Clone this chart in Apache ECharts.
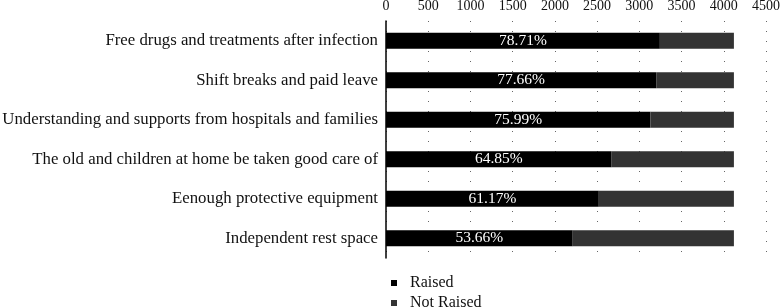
<!DOCTYPE html>
<html>
<head>
<meta charset="utf-8">
<script src="https://cdn.jsdelivr.net/npm/echarts@6/dist/echarts.min.js"></script>
<style>
  html, body { margin: 0; padding: 0; background: #fff; }
  #chart { width: 781px; height: 308px; }
</style>
</head>
<body>
<div id="chart"></div>
<script>
// categories, top to bottom
const categories = [
  "Free drugs and treatments after infection",
  "Shift breaks and paid leave",
  "Understanding and supports from hospitals and families",
  "The old and children at home be taken good care of",
  "Eenough protective equipment",
  "Independent rest space"
];
const raised = [3243, 3200, 3131, 2672, 2520, 2211];
const notRaised = [877, 920, 989, 1448, 1600, 1909];
const pctLabels = ["78.71%", "77.66%", "75.99%", "64.85%", "61.17%", "53.66%"];

const font = "'Liberation Serif', 'DejaVu Serif', serif";

const legendItem = (name, top) => ({
  left: 386,
  top: top,
  itemWidth: 6,
  itemHeight: 6,
  icon: "rect",
  textStyle: { fontFamily: font, fontSize: 16, color: "#111", padding: [0, 0, 0, 8] },
  data: [name]
});

const chart = echarts.init(document.getElementById("chart"));
chart.setOption({
  animation: false,
  textStyle: { fontFamily: font },
  grid: { left: 386, right: 15, top: 21, bottom: 50, outerBoundsMode: "none", containLabel: false },
  legend: [legendItem("Raised", 270), legendItem("Not Raised", 290)],
  xAxis: {
    type: "value",
    position: "top",
    min: 0,
    max: 4500,
    interval: 500,
    axisLine: { show: false },
    axisTick: { show: false },
    axisLabel: { fontFamily: font, fontSize: 14, color: "#111", margin: 8, formatter: v => String(v) },
    splitLine: { show: true, lineStyle: { color: "#666", type: [1, 9], width: 1 } }
  },
  yAxis: {
    type: "category",
    inverse: true,
    data: categories,
    axisLine: { show: true, lineStyle: { color: "#000", width: 1.5 } },
    axisTick: { show: false },
    axisLabel: { fontFamily: font, fontSize: 16.8, color: "#111", margin: 8 }
  },
  series: [
    {
      name: "Raised",
      type: "bar",
      stack: "total",
      barWidth: 16,
      data: raised,
      itemStyle: { color: "#000" },
      label: {
        show: true,
        position: "inside",
        color: "#fff",
        fontFamily: font,
        fontSize: 15.5,
        formatter: p => pctLabels[p.dataIndex]
      }
    },
    {
      name: "Not Raised",
      type: "bar",
      stack: "total",
      barWidth: 16,
      data: notRaised,
      itemStyle: { color: "#333" }
    }
  ]
});
</script>
</body>
</html>
